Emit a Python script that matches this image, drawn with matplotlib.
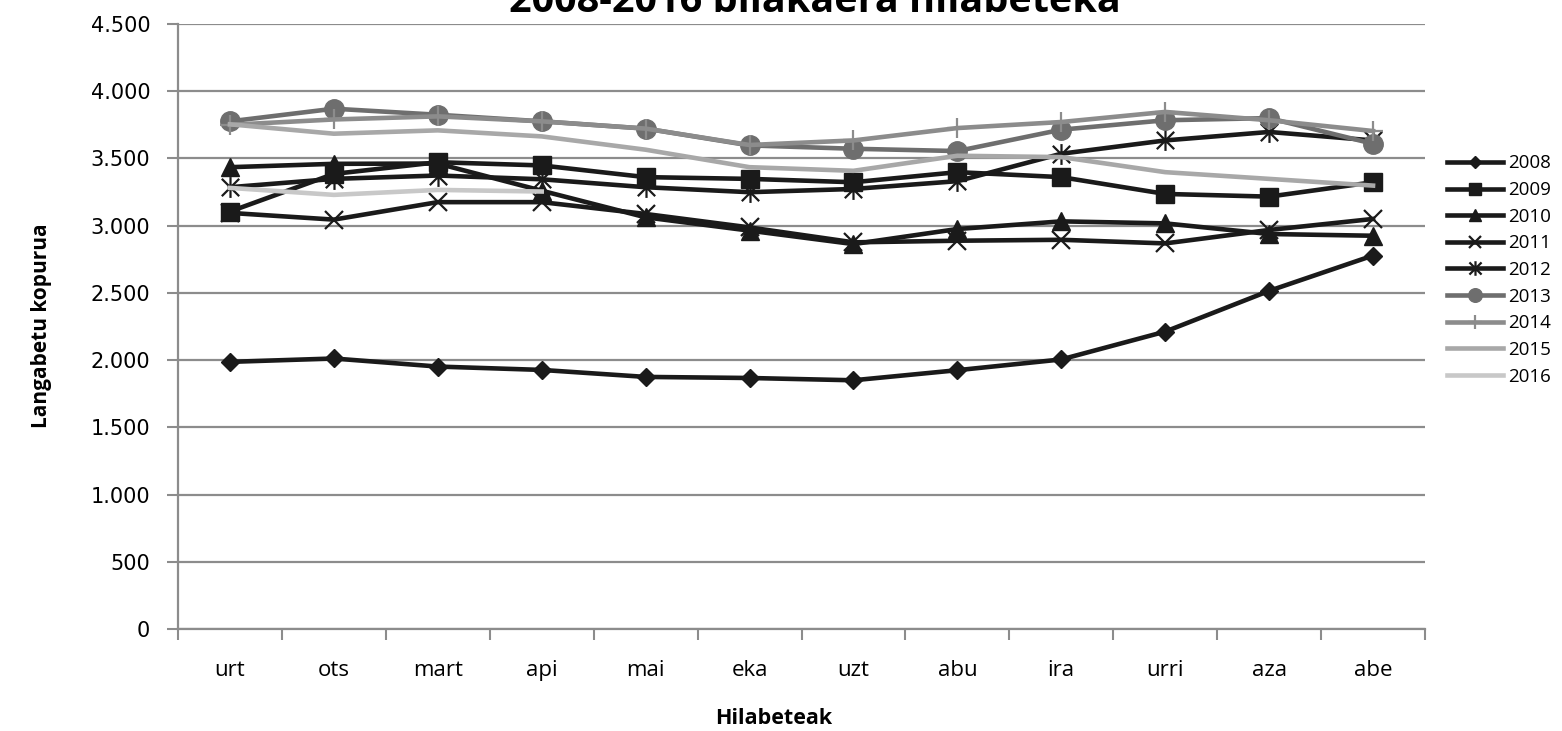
import matplotlib.pyplot as plt
from matplotlib.path import Path
import numpy as np

months = ['urt', 'ots', 'mart', 'api', 'mai', 'eka', 'uzt', 'abu', 'ira', 'urri', 'aza', 'abe']

y2008 = [1987, 2012, 1952, 1927, 1875, 1867, 1850, 1925, 2005, 2212, 2515, 2778]
y2009 = [3105, 3385, 3472, 3448, 3361, 3348, 3323, 3398, 3361, 3236, 3216, 3323]
y2010 = [3435, 3460, 3462, 3260, 3062, 2963, 2863, 2975, 3032, 3017, 2938, 2925]
y2011 = [3095, 3045, 3175, 3175, 3087, 2987, 2876, 2888, 2895, 2868, 2968, 3050]
y2012 = [3286, 3348, 3373, 3345, 3286, 3249, 3273, 3331, 3535, 3634, 3697, 3634]
y2013 = [3776, 3870, 3825, 3776, 3722, 3597, 3572, 3555, 3714, 3784, 3800, 3609]
y2014 = [3750, 3790, 3813, 3776, 3722, 3600, 3634, 3726, 3771, 3846, 3784, 3704]
y2015 = [3754, 3684, 3709, 3664, 3565, 3435, 3408, 3520, 3510, 3398, 3348, 3298]
y2016 = [3281, 3229, 3266, 3254]  # 2016: urtarrila-apirila bakarrik

# asterisko markatzailea (x + bertikala)
asterisk = Path([(-0.5, -0.5), (0.5, 0.5), (-0.5, 0.5), (0.5, -0.5), (0, -0.6), (0, 0.6)],
                [Path.MOVETO, Path.LINETO, Path.MOVETO, Path.LINETO, Path.MOVETO, Path.LINETO])

dark = '#1a1a1a'
series = [
    ('2008', y2008, dark, 'D', 9, 1),
    ('2009', y2009, dark, 's', 13, 1),
    ('2010', y2010, dark, '^', 13, 1),
    ('2011', y2011, dark, 'x', 13, 1.6),
    ('2012', y2012, dark, asterisk, 15, 1.6),
    ('2013', y2013, '#6e6e6e', 'o', 14, 1),
    ('2014', y2014, '#8c8c8c', '+', 15, 1.6),
    ('2015', y2015, '#a8a8a8', None, 0, 1),
    ('2016', y2016, '#c8c8c8', None, 0, 1),
]

plt.rcParams['font.family'] = 'Open Sans'

fig = plt.figure(figsize=(15.62, 7.31), dpi=100)
ax = fig.add_axes([178 / 1562, 102 / 731, 1247 / 1562, 605 / 731])

for name, vals, col, mk, ms, mew in series:
    x = np.arange(len(vals))
    if mk is None:
        ax.plot(x, vals, color=col, lw=3.3, label=name, solid_joinstyle='miter')
    else:
        ax.plot(x, vals, color=col, lw=3.3, marker=mk, markersize=ms,
                markeredgewidth=mew, markerfacecolor=col, markeredgecolor=col,
                label=name, solid_joinstyle='miter')

ax.set_xlim(-0.5, 11.5)
ax.set_ylim(0, 4500)
ax.set_yticks(np.arange(0, 4501, 500))
ax.set_yticklabels([f'{v:,}'.replace(',', '.') for v in range(0, 4501, 500)],
                   fontfamily='DejaVu Sans', fontsize=15)
ax.set_xticks(np.arange(12))
ax.set_xticklabels(months, fontsize=16)
ax.set_xticks(np.arange(-0.5, 12, 1), minor=True)
ax.tick_params(axis='x', which='major', length=0, pad=22)
ax.tick_params(axis='x', which='minor', length=8, width=1.5, color='#8c8c8c', direction='out')
ax.tick_params(axis='y', length=8, width=1.5, color='#8c8c8c', pad=12)

ax.grid(axis='y', color='#8c8c8c', lw=1.6)
ax.set_axisbelow(True)
for s in ['top', 'right']:
    ax.spines[s].set_visible(False)
for s in ['left', 'bottom']:
    ax.spines[s].set_color('#8c8c8c')
    ax.spines[s].set_linewidth(1.6)

# izenburua goian moztuta dago jatorrizkoan
fig.text(815 / 1562, 1 - 12 / 731, '2008-2016 bilakaera hilabeteka', ha='center',
         va='baseline', fontsize=28.5, fontweight='bold')
fig.text(774 / 1562, 1 - 718 / 731, 'Hilabeteak', ha='center', va='center',
         fontsize=15.5, fontweight='bold')
fig.text(42 / 1562, 1 - 326 / 731, 'Langabetu kopurua', ha='center', va='center',
         rotation=90, fontsize=15, fontweight='bold')

ax.legend(loc='center left', bbox_to_anchor=(1447 / 1562, 1 - 270 / 731),
          bbox_transform=fig.transFigure, frameon=False, fontsize=13.5,
          handlelength=3.0, handletextpad=0.25, labelspacing=0.46,
          borderpad=0, borderaxespad=0, markerscale=0.7)

fig.savefig('out.png', dpi=100)
